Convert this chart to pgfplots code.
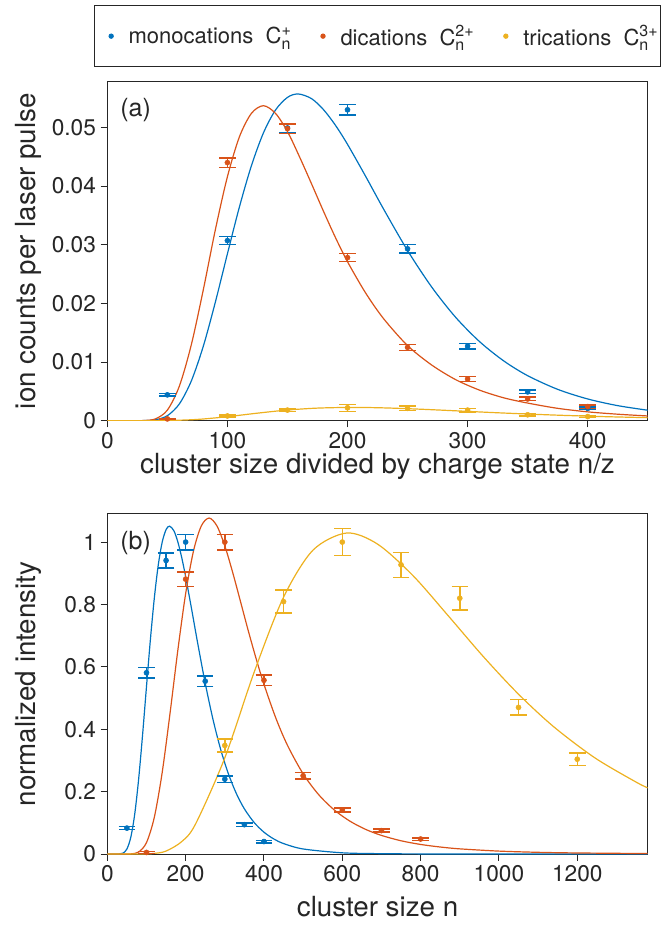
\documentclass[border=0pt]{standalone}
\usepackage{fontspec}
\setmainfont{TeX Gyre Heros}
\usepackage{pgfplots}
\pgfplotsset{compat=1.18}
\usepackage{pgfplotstable}
\usetikzlibrary{calc}
\definecolor{cb}{rgb}{0,0.447,0.741}
\definecolor{co}{rgb}{0.850,0.325,0.098}
\definecolor{cy}{rgb}{0.929,0.694,0.125}
\definecolor{ax}{rgb}{0.15,0.15,0.15}
\newcommand{\Cn}[1]{C$^{\hbox{\fontsize{12}{12}\selectfont #1}}_{\hbox{\fontsize{12}{12}\selectfont n}}$}
\newcommand{\tickfont}{\fontsize{17}{17}\selectfont}
\newcommand{\labfont}{\fontsize{20.8}{20.8}\selectfont}

% panel (a): ion counts vs n/z
\pgfplotstableread{
x y e
50 0.0044 0.0002
100 0.0307 0.0007
150 0.0499 0.0008
200 0.0530 0.0009
250 0.0293 0.0007
300 0.0127 0.0005
350 0.0049 0.0003
400 0.0021 0.0002
}\aBpts
\pgfplotstableread{
x y e
50 0.0003 0.0001
100 0.0440 0.0008
150 0.0498 0.0008
200 0.0278 0.0007
250 0.0125 0.0005
300 0.0071 0.0004
350 0.0037 0.0003
400 0.0024 0.0003
}\aOpts
\pgfplotstableread{
x y e
100 0.0008 0.0002
150 0.0018 0.0002
200 0.0022 0.0006
250 0.0021 0.0004
300 0.0018 0.0003
350 0.0010 0.0002
400 0.0007 0.0002
}\aYpts
\pgfplotstableread{
x y
0 0
20 0
30 0.00001
40 0.000145
50 0.00085
60 0.00286
70 0.0068
80 0.01275
90 0.02025
100 0.02845
110 0.03645
120 0.04348
130 0.04907
140 0.05295
150 0.05512
159 0.0557
170 0.05491
180 0.05303
190 0.05035
200 0.04711
215 0.04169
230 0.03609
250 0.02901
270 0.02281
290 0.01763
310 0.01347
330 0.0102
350 0.00767
375 0.00534
400 0.0037
425 0.00256
450 0.00178
}\aBfit
\pgfplotstableread{
x y
0 0
20 0
30 0.00002
40 0.0003
50 0.0018
60 0.0059
70 0.0130
80 0.0224
90 0.0326
100 0.0416
110 0.0484
120 0.0524
130 0.0537
140 0.0524
150 0.0493
160 0.0450
170 0.0404
180 0.0357
190 0.0312
200 0.0271
215 0.0218
230 0.0174
250 0.0128
270 0.0095
290 0.0070
310 0.0052
330 0.0039
350 0.0030
375 0.0021
400 0.0015
425 0.0011
450 0.0008
}\aOfit
\pgfplotstableread{
x y
0 0
30 0
50 0.00002
75 0.00021
100 0.00068
125 0.00128
150 0.00181
175 0.00214
204 0.00226
230 0.00218
260 0.00196
290 0.00168
320 0.00139
350 0.00113
380 0.0009
415 0.00068
450 0.00051
}\aYfit

% panel (b): normalized intensity vs n
\pgfplotstableread{
x y e
50 0.083 0.005
100 0.581 0.017
150 0.941 0.024
200 1.000 0.025
250 0.554 0.017
300 0.240 0.010
350 0.094 0.006
400 0.040 0.004
}\bBpts
\pgfplotstableread{
x y e
100 0.005 0.003
200 0.881 0.023
300 1.000 0.025
400 0.557 0.017
500 0.251 0.010
600 0.141 0.007
700 0.075 0.005
800 0.048 0.004
}\bOpts
\pgfplotstableread{
x y e
300 0.348 0.021
450 0.809 0.037
600 1.000 0.043
750 0.927 0.040
900 0.820 0.038
1050 0.470 0.025
1200 0.304 0.020
}\bYpts
\pgfplotstableread{
x y
0 0
20 0
30 0.0002
40 0.0027
50 0.0160
60 0.0540
70 0.1283
80 0.2406
90 0.3820
100 0.5367
110 0.6878
120 0.8205
130 0.9258
140 0.9991
150 1.0400
159 1.051
170 1.0361
180 1.0007
190 0.9500
200 0.8888
215 0.7866
230 0.6809
250 0.5474
270 0.4304
290 0.3326
310 0.2541
330 0.1924
350 0.1447
375 0.1008
400 0.0699
425 0.0483
450 0.0335
500 0.0161
600 0.0038
700 0.0010
800 0.0003
1000 0
1380 0
}\bBfit
\pgfplotstableread{
x y
0 0
40 0
60 0.0004
80 0.0063
100 0.0366
120 0.1177
140 0.2605
160 0.4499
180 0.6528
200 0.8348
220 0.9713
240 1.0518
260 1.077
280 1.0515
300 0.9879
320 0.9031
340 0.8096
360 0.7153
380 0.6261
400 0.5440
430 0.4367
460 0.3484
500 0.2570
540 0.1898
580 0.1407
620 0.1049
660 0.0787
700 0.0596
750 0.0424
800 0.0306
850 0.0224
900 0.0165
1000 0.0093
1100 0.0054
1200 0.0033
1380 0.0014
}\bOfit
\pgfplotstableread{
x y
0 0
90 0
120 0.0019
150 0.0094
190 0.0398
225 0.0955
300 0.3083
375 0.5831
450 0.8232
525 0.9739
611 1.029
690 0.9935
780 0.8931
870 0.7645
960 0.6331
1050 0.5123
1140 0.4078
1245 0.3082
1350 0.2307
1380 0.2121
}\bYfit

\pgfplotsset{
  panel/.style={
    scale only axis, width=405.3pt,
    axis line style={ax, line width=0.75pt},
    every tick/.style={ax, line width=0.75pt},
    tick align=outside, tick pos=left,
    major tick length=5pt,
    /pgf/number format/assume math mode=true,
    /pgf/number format/1000 sep={},
    xticklabel={\pgfmathprintnumber{\tick}},
    yticklabel={\pgfmathprintnumber{\tick}},
    xticklabel style={font=\tickfont, text=ax},
    yticklabel style={font=\tickfont, text=ax},
    xlabel style={font=\labfont, text=ax},
    ylabel style={font=\labfont, text=ax},
    scaled ticks=false,
    clip=true,
  },
  dat/.style={only marks, mark=*, mark size=1.9pt, color=#1, forget plot,
    error bars/y dir=both, error bars/y explicit,
    error bars/error bar style={line width=1.1pt, color=#1},
    error bars/error mark options={rotate=90, mark size=6.2pt, line width=1.1pt, color=#1}},
  fit/.style={color=#1, line width=0.9pt, smooth, no marks, forget plot},
}

\begin{document}
\begin{tikzpicture}
% ---------- panel (b) ----------
\begin{axis}[panel, name=b, at={(0,0)}, anchor=south west,
  height=255pt,
  xmin=0, xmax=1380, ymin=0, ymax=1.09,
  xtick={0,200,400,600,800,1000,1200},
  ytick={0,0.2,0.4,0.6,0.8,1},
  yticklabel style={/pgf/number format/fixed, /pgf/number format/precision=1},
  xlabel={cluster size n},
  ylabel={normalized intensity},
  xlabel style={at={(axis description cs:0.5,-0.156)}, anchor=center},
  ylabel style={at={(axis description cs:-0.1462,0.5)}, anchor=center},
]
\addplot[fit=cb] table[x=x,y=y] {\bBfit};
\addplot[fit=co] table[x=x,y=y] {\bOfit};
\addplot[fit=cy] table[x=x,y=y] {\bYfit};
\addplot[dat=cb] table[x=x,y=y,y error=e] {\bBpts};
\addplot[dat=co] table[x=x,y=y,y error=e] {\bOpts};
\addplot[dat=cy] table[x=x,y=y,y error=e] {\bYpts};
\node[anchor=west, inner sep=0pt, font=\fontsize{18.75}{18.75}\selectfont, text=ax] at (axis description cs:0.0235,0.916) {(b)};
\end{axis}
% ---------- panel (a) ----------
\begin{axis}[panel, name=a, at={(0,325pt)}, anchor=south west,
  height=254.25pt,
  xmin=0, xmax=450, ymin=0, ymax=0.0578,
  xtick={0,100,200,300,400},
  ytick={0,0.01,0.02,0.03,0.04,0.05},
  yticklabel style={/pgf/number format/fixed, /pgf/number format/precision=2},
  xlabel={cluster size divided by charge state n/z},
  ylabel={ion counts per laser pulse},
  xlabel style={at={(axis description cs:0.5,-0.1337)}, anchor=center},
  ylabel style={at={(axis description cs:-0.1462,0.5)}, anchor=center},
  legend columns=3,
  legend cell align=left,
  legend style={at={(axis description cs:0.5,1)}, anchor=south, yshift=11pt,
    draw=ax, line width=0.75pt, font=\fontsize{16.5}{16.5}\selectfont, text=ax,
    inner xsep=1.5pt, inner ysep=14.6pt,
    nodes={inner sep=0pt},
    /tikz/every odd column/.append style={column sep=0pt},
    /tikz/every even column/.append style={column sep=12.75pt}},
]
\addlegendimage{legend image code/.code={\path (-10.5pt,0pt) (12.75pt,0pt); \fill[cb] (0pt,0pt) circle (1.6pt);}}
\addlegendentry{monocations\ \ \Cn{+}}
\addlegendimage{legend image code/.code={\path (-10.5pt,0pt) (12.75pt,0pt); \fill[co] (0pt,0pt) circle (1.6pt);}}
\addlegendentry{dications\ \ \Cn{2+}}
\addlegendimage{legend image code/.code={\path (-10.5pt,0pt) (12.75pt,0pt); \fill[cy] (0pt,0pt) circle (1.6pt);}}
\addlegendentry{trications\ \ \Cn{3+}}
\addplot[fit=cb] table[x=x,y=y] {\aBfit};
\addplot[fit=co] table[x=x,y=y] {\aOfit};
\addplot[fit=cy] table[x=x,y=y] {\aYfit};
\addplot[dat=cb] table[x=x,y=y,y error=e] {\aBpts};
\addplot[dat=co] table[x=x,y=y,y error=e] {\aOpts};
\addplot[dat=cy] table[x=x,y=y,y error=e] {\aYpts};
\node[anchor=west, inner sep=0pt, font=\fontsize{18.75}{18.75}\selectfont, text=ax] at (axis description cs:0.0235,0.917) {(a)};
\end{axis}
\pgfresetboundingbox
\path[use as bounding box] ($(b.south west)+(-80.5pt,-60pt)$) rectangle ($(b.south west)+(414.5pt,640.5pt)$);
\end{tikzpicture}
\end{document}
